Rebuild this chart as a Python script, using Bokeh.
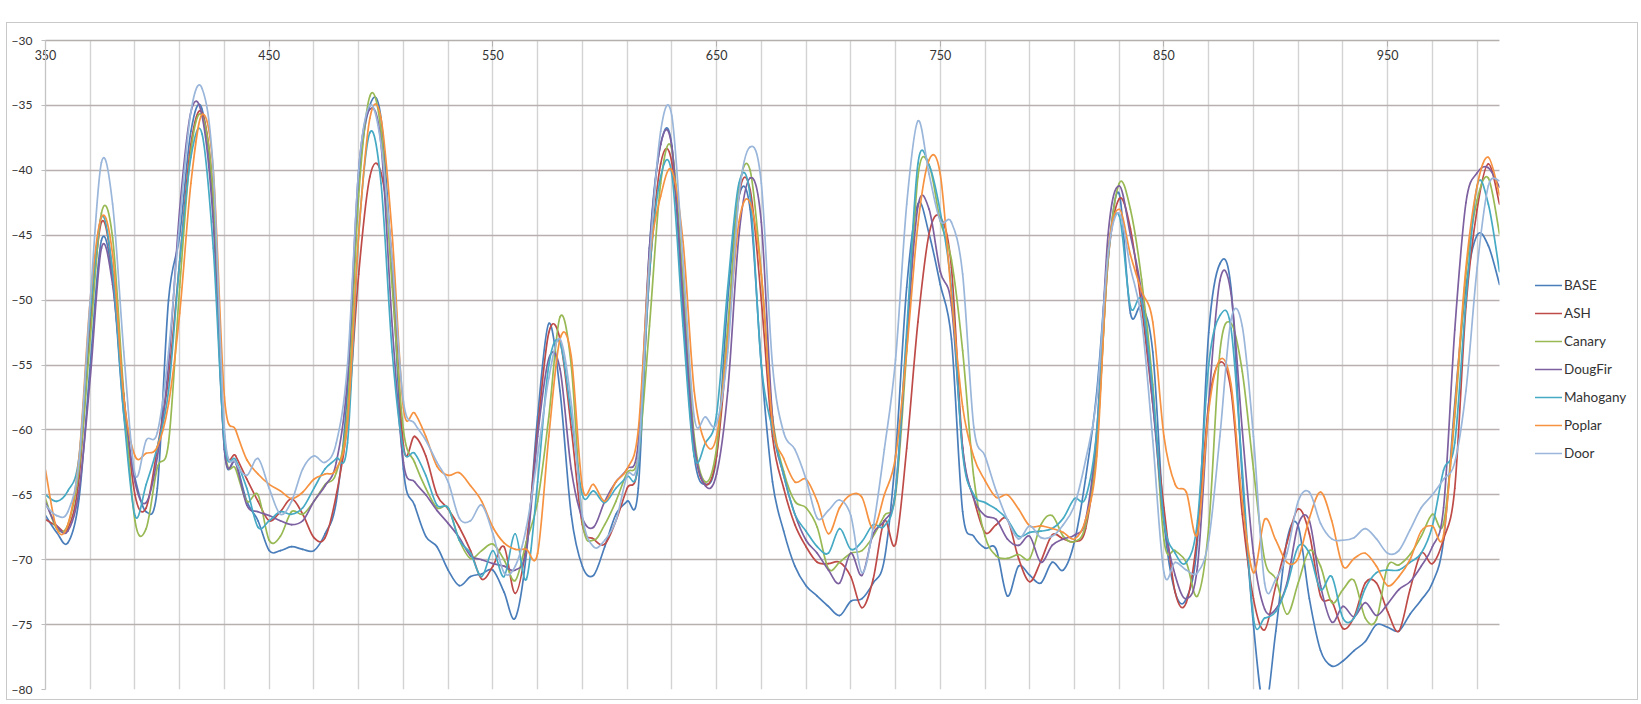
from bokeh.plotting import figure
from bokeh.models import Range1d, FixedTicker, Legend, LegendItem, BoxAnnotation
from bokeh.embed import file_html
from bokeh.resources import INLINE

# wavelength axis (every 5 units)
wavelength = list(range(350, 1001, 5))

base = [
    -66.6, -67.9, -68.7, -65.3, -55.0, -45.4, -48.4, -58.8, -63.7, -66.3,
    -64.5, -50.0, -45.0, -37.0, -35.3, -43.0, -61.5, -62.5, -65.5, -67.0,
    -69.3, -69.3, -69.0, -69.2, -69.3, -68.0, -65.5, -57.0, -41.0, -35.0,
    -36.0, -48.0, -63.0, -65.8, -68.2, -69.0, -70.8, -72.0, -71.3, -71.1,
    -70.8, -72.5, -74.5, -69.5, -59.0, -51.8, -57.0, -66.5, -70.5, -71.2,
    -69.0, -66.5, -65.5, -64.5, -46.0, -38.0, -38.1, -51.0, -62.0, -64.2,
    -62.0, -50.0, -42.0, -43.0, -55.0, -64.0, -67.8, -70.5, -72.0, -72.8,
    -73.6, -74.3, -73.2, -73.0, -71.8, -70.0, -62.0, -49.0, -42.6, -44.9,
    -48.8, -53.0, -66.3, -68.2, -69.1, -69.2, -72.8, -70.5, -71.2, -71.8,
    -70.2, -70.8, -68.6, -63.7, -57.0, -46.5, -41.8, -51.0, -50.5, -54.0,
    -67.0, -72.5, -73.0, -68.5, -52.5, -47.2, -49.1, -63.7, -75.0, -81.5,
    -75.5, -68.5, -67.4, -73.0, -77.0, -78.2, -77.8, -77.0, -76.3, -75.0,
    -75.2, -75.5, -74.2, -73.1, -71.8, -68.5, -58.0, -49.0, -45.0, -45.8,
    -48.8,
]
ash = [
    -66.9, -67.4, -67.6, -63.7, -52.0, -44.0, -47.8, -57.5, -65.0, -66.0,
    -61.4, -56.0, -47.0, -38.0, -35.6, -42.0, -60.5, -62.0, -63.8, -65.5,
    -67.0, -66.3, -65.3, -66.5, -68.3, -68.3, -65.0, -59.5, -48.0, -40.5,
    -40.2, -47.0, -61.2, -60.5, -62.0, -65.0, -66.1, -67.5, -69.3, -71.5,
    -70.5, -69.0, -72.6, -68.7, -60.0, -52.5, -53.0, -59.8, -67.3, -68.4,
    -68.8, -67.0, -64.5, -62.5, -48.0, -39.5, -39.4, -49.0, -61.0, -64.2,
    -62.0, -53.0, -42.0, -41.5, -50.0, -60.5, -64.5, -67.3, -69.0, -70.2,
    -70.3, -70.2, -71.3, -73.7, -71.5, -67.0, -68.8, -61.4, -51.7, -44.9,
    -43.6, -47.5, -61.4, -65.3, -67.9, -67.3, -66.9, -69.9, -71.7, -70.1,
    -68.1, -68.4, -68.6, -67.6, -61.0, -47.0, -42.2, -44.5, -50.5, -58.0,
    -66.0, -72.5, -73.3, -68.0, -58.0, -54.8, -57.0, -66.5, -73.0, -75.4,
    -72.0, -68.7, -66.1, -68.0, -72.8, -73.2, -75.3, -74.4, -71.8, -71.8,
    -74.0, -75.5, -72.3, -69.5, -70.3, -68.4, -64.5, -50.5, -43.0, -39.5,
    -42.6,
]
canary = [
    -65.3, -67.6, -67.3, -63.0, -53.0, -43.3, -45.2, -57.2, -67.0, -67.6,
    -62.9, -61.0, -49.0, -38.5, -35.8, -42.0, -61.0, -63.0, -65.5, -65.0,
    -68.5, -68.2, -66.3, -66.5, -65.5, -64.2, -63.3, -58.5, -42.0, -34.3,
    -37.0, -49.0, -60.0, -62.5, -64.5, -66.0, -66.0, -68.5, -69.9, -69.3,
    -68.8, -70.0, -71.6, -68.6, -65.5, -59.0, -51.3, -55.0, -67.0, -68.5,
    -67.3, -65.5, -63.3, -62.0, -52.0, -41.0, -38.4, -48.5, -60.5, -64.0,
    -61.4, -52.0, -41.5, -40.0, -48.0, -59.0, -63.2, -65.5, -66.0, -67.5,
    -70.7, -70.2, -69.5, -69.3, -68.2, -66.6, -65.0, -53.9, -40.5, -39.6,
    -43.9, -46.9, -53.9, -63.7, -68.2, -69.7, -69.9, -69.6, -69.9, -67.3,
    -66.6, -68.2, -68.6, -67.3, -61.0, -47.0, -41.0, -43.0, -48.4, -56.5,
    -68.5, -69.3, -70.2, -72.8, -67.5, -54.0, -51.8, -55.5, -63.0, -70.0,
    -71.5, -74.2, -71.8, -69.3, -70.5, -73.3, -72.3, -71.6, -74.5, -74.6,
    -70.5, -70.4, -69.6, -68.2, -66.5, -67.2, -59.0, -48.0, -42.3, -40.6,
    -44.9,
]
dougfir = [
    -65.6, -67.4, -67.8, -64.7, -56.0, -46.0, -48.8, -57.5, -64.0, -65.6,
    -62.1, -55.0, -43.0, -35.5, -35.8, -44.0, -61.5, -62.5, -65.8, -66.3,
    -66.6, -67.0, -67.3, -67.0, -65.5, -64.3, -62.5, -56.0, -40.0, -35.3,
    -38.0, -52.0, -62.5, -64.0, -65.0, -66.2, -67.2, -68.3, -69.7, -70.0,
    -70.3, -70.5, -70.8, -69.2, -60.5, -54.5, -55.3, -63.0, -66.8, -67.5,
    -65.5, -64.0, -63.0, -61.0, -46.0, -38.0, -38.2, -50.0, -61.0, -64.3,
    -63.4, -57.0, -45.0, -40.6, -44.0, -59.0, -63.5, -66.5, -68.5, -69.5,
    -70.8, -71.8, -69.5, -71.2, -68.0, -67.0, -64.7, -53.0, -42.8, -43.0,
    -47.8, -50.4, -61.4, -65.3, -66.6, -66.9, -68.4, -68.9, -68.2, -70.2,
    -68.9, -68.4, -68.1, -66.9, -60.0, -45.0, -41.2, -45.0, -49.5, -58.0,
    -67.0, -71.2, -73.0, -70.5, -58.0, -48.5, -49.5, -60.0, -69.5, -73.8,
    -73.8, -71.8, -67.3, -67.0, -72.0, -74.8, -73.6, -74.4, -73.3, -74.3,
    -73.4, -72.3, -71.7, -70.5, -69.0, -66.0, -52.3, -42.5, -40.2, -39.8,
    -41.3,
]
mahogany = [
    -65.0, -65.5, -64.7, -62.1, -51.0, -43.6, -47.8, -58.8, -66.6, -64.2,
    -61.3, -57.0, -47.0, -39.0, -37.2, -46.0, -61.0, -62.3, -64.5, -67.5,
    -67.0, -66.3, -66.5, -66.0, -64.5, -63.0, -62.2, -61.0, -45.0, -37.1,
    -41.0, -54.0, -61.5, -61.8, -63.5, -65.8, -66.0, -68.5, -69.5, -71.3,
    -69.3, -71.3, -68.0, -71.5, -64.0, -55.0, -53.3, -58.8, -65.0, -64.7,
    -65.6, -64.5, -63.6, -62.6, -48.0, -40.5, -40.3, -52.0, -62.0, -61.0,
    -58.8, -49.0, -41.0, -42.0, -55.0, -60.0, -63.5, -66.5, -67.8, -69.0,
    -69.5, -67.6, -69.2, -68.6, -67.3, -67.4, -64.7, -52.3, -39.5, -39.6,
    -43.2, -49.1, -61.8, -65.0, -65.6, -66.1, -66.9, -68.2, -67.9, -67.8,
    -67.6, -66.8, -65.3, -65.2, -60.0, -46.5, -43.5, -50.5, -50.1, -57.0,
    -67.0, -69.5, -70.2, -67.0, -55.0, -51.2, -52.2, -63.0, -74.5, -74.5,
    -74.0, -72.0, -69.0, -69.5, -72.3, -71.3, -74.5, -74.5, -72.2, -71.0,
    -70.8, -70.8, -70.2, -69.5, -67.4, -63.1, -61.0, -50.0, -41.2, -42.6,
    -47.8,
]
poplar = [
    -63.1, -67.6, -67.3, -62.1, -50.0, -43.6, -46.5, -57.5, -62.0, -61.8,
    -61.3, -58.0, -51.0, -41.0, -35.7, -40.0, -57.5, -60.0, -62.3, -63.4,
    -64.2, -64.7, -65.3, -64.8, -63.8, -63.4, -63.0, -59.5, -45.0, -36.0,
    -36.0, -45.0, -58.3, -58.7, -60.5, -62.8, -63.5, -63.3, -64.3, -65.5,
    -67.5, -68.7, -69.2, -69.2, -69.5, -60.5, -53.0, -54.3, -64.4, -64.2,
    -65.5, -64.0, -63.0, -60.0, -47.0, -42.0, -40.0, -45.5, -57.0, -61.0,
    -60.5, -53.0, -44.0, -42.5, -48.0, -59.5, -62.2, -64.0, -63.8, -65.5,
    -68.0, -66.0, -65.0, -65.2, -67.6, -65.0, -62.1, -53.9, -44.2, -39.2,
    -40.3, -49.7, -58.2, -62.1, -63.9, -65.2, -65.0, -66.1, -67.4, -67.4,
    -67.6, -67.9, -68.4, -66.9, -62.0, -46.5, -43.0, -46.5, -49.3, -51.7,
    -60.5, -64.2, -64.8, -68.0, -58.5, -54.6, -56.5, -65.5, -71.0, -66.9,
    -68.5, -70.2, -69.9, -66.8, -64.8, -67.0, -70.5, -69.9, -69.5, -70.5,
    -72.0, -71.3, -70.0, -67.8, -67.4, -68.1, -58.5, -47.5, -41.2, -39.0,
    -41.9,
]
door = [
    -65.8, -66.6, -66.3, -62.4, -50.0, -39.4, -42.6, -54.0, -63.4, -60.8,
    -60.2, -54.0, -44.0, -35.5, -33.7, -40.0, -60.0, -62.5, -63.5, -62.2,
    -64.5, -66.5, -65.5, -63.0, -62.0, -62.5, -61.0, -55.0, -40.0, -35.0,
    -38.0, -47.0, -57.8, -59.5, -60.8, -62.5, -64.0, -66.8, -67.0, -65.8,
    -68.0, -71.0, -70.5, -67.5, -62.0, -56.0, -53.0, -57.9, -66.6, -69.0,
    -68.5, -67.0, -63.5, -62.0, -47.0, -37.0, -35.8, -47.0, -59.0, -59.0,
    -59.5, -54.0, -42.0, -38.2, -41.0, -55.0, -60.2, -61.5, -63.8, -66.8,
    -66.2, -65.4, -66.6, -71.0, -67.5, -61.5, -54.6, -42.6, -36.2, -40.3,
    -43.9, -44.0, -48.0, -59.8, -62.0, -64.7, -66.9, -68.4, -67.4, -68.3,
    -68.2, -67.3, -65.8, -62.3, -57.5, -46.5, -43.3, -47.5, -51.5, -60.8,
    -71.0, -70.2, -70.8, -71.0, -68.5, -60.5, -51.5, -52.0, -60.5, -71.8,
    -71.5, -69.5, -65.5, -64.8, -67.2, -68.4, -68.5, -68.3, -67.6, -68.4,
    -69.5, -69.3, -67.7, -66.0, -65.0, -63.8, -62.5, -57.0, -47.5, -41.2,
    -40.8,
]

series_names = ["BASE", "ASH", "Canary", "DougFir", "Mahogany", "Poplar", "Door"]
series_values = [base, ash, canary, dougfir, mahogany, poplar, door]
series_colors = ["#4a7ebb", "#be4b48", "#98b954", "#7d60a0", "#46aac5", "#f69240", "#9ab6da"]

x_label_ticks = [350, 450, 550, 650, 750, 850, 950]
x_grid_ticks = list(range(350, 1000, 20))
y_ticks = [-80, -75, -70, -65, -60, -55, -50, -45, -40, -35, -30]
x_start, x_end = 350, 1000

FONT = "Lato"

# layout (pixels)
FIG_W, FIG_H = 1632, 678
BORDER_L, BORDER_R, BORDER_T, BORDER_B = 38, 0, 17, 12
PLOT_W = 1454                      # width used by the 350..1000 data region
FRAME_W = FIG_W - BORDER_L - BORDER_R
# the frame also hosts the legend at its right, beyond the data region
x_view_end = x_end + (x_end - x_start) * (FRAME_W - PLOT_W) / PLOT_W


def smoothed_segments(xs, ys):
    """Cubic Bezier segments through the data points (like a spreadsheet's smoothed line)."""
    n = len(xs)
    seg = {k: [] for k in ("x0", "y0", "x1", "y1", "cx0", "cy0", "cx1", "cy1")}
    for i in range(n - 1):
        xa, ya = (xs[i - 1], ys[i - 1]) if i > 0 else (xs[i], ys[i])
        xd, yd = (xs[i + 2], ys[i + 2]) if i + 2 < n else (xs[i + 1], ys[i + 1])
        seg["x0"].append(xs[i]); seg["y0"].append(ys[i])
        seg["x1"].append(xs[i + 1]); seg["y1"].append(ys[i + 1])
        seg["cx0"].append(xs[i] + (xs[i + 1] - xa) / 6.0)
        seg["cy0"].append(ys[i] + (ys[i + 1] - ya) / 6.0)
        seg["cx1"].append(xs[i + 1] - (xd - xs[i]) / 6.0)
        seg["cy1"].append(ys[i + 1] - (yd - ys[i]) / 6.0)
    return seg


p = figure(
    width=FIG_W, height=FIG_H,
    x_range=Range1d(x_start, x_view_end), y_range=Range1d(-80, -30),
    x_axis_location="above",
    output_backend="svg", toolbar_location=None,
    min_border_left=BORDER_L, min_border_right=BORDER_R,
    min_border_top=BORDER_T, min_border_bottom=BORDER_B,
)
p.styles = {"margin-top": "22px", "margin-left": "6px", "border": "1px solid #c9c9c9"}
p.background_fill_color = "white"
p.border_fill_color = "white"
p.outline_line_color = None

# x axis (top) with labels drawn inside the frame
xa = p.xaxis[0]
xa.bounds = (x_start, x_end)
xa.ticker = FixedTicker(ticks=x_label_ticks)
xa.minor_tick_line_color = None
xa.major_tick_in = 6
xa.major_tick_out = 0
xa.major_tick_line_color = "#b5b0ae"
xa.axis_line_color = "#b5b0ae"
xa.axis_line_width = 1.3
xa.major_label_standoff = -19
xa.major_label_text_font = FONT
xa.major_label_text_font_size = "12.5px"
xa.major_label_text_color = "#333333"

ya = p.yaxis[0]
ya.ticker = FixedTicker(ticks=y_ticks)
ya.minor_tick_line_color = None
ya.major_tick_in = 0
ya.major_tick_out = 4
ya.major_tick_line_color = "#bdbdbd"
ya.axis_line_color = "#c4c4c4"
ya.axis_line_width = 1.3
ya.major_label_standoff = 9
ya.major_label_text_font = FONT
ya.major_label_text_font_size = "12px"
ya.major_label_text_color = "#333333"

p.xgrid[0].ticker = FixedTicker(ticks=x_grid_ticks)
p.xgrid[0].grid_line_color = "#d3d3d3"
p.xgrid[0].grid_line_width = 1.4
p.ygrid[0].ticker = FixedTicker(ticks=y_ticks)
p.ygrid[0].grid_line_color = "#b8b0ae"
p.ygrid[0].grid_line_width = 1.4

items = []
for name, vals, col in zip(series_names, series_values, series_colors):
    seg = smoothed_segments(wavelength, vals)
    r = p.bezier(line_color=col, line_width=1.7, line_cap="round", **seg)
    items.append(LegendItem(label=name, renderers=[r]))

# blank area right of the data region (where the legend sits)
p.add_layout(BoxAnnotation(left=x_end, fill_color="white", fill_alpha=1.0,
                           line_alpha=0))

legend = Legend(
    items=items,
    location=(PLOT_W + 36, 228),
    glyph_width=27, glyph_height=16, label_height=16,
    label_standoff=2, spacing=12, padding=0, margin=0,
    label_text_font=FONT, label_text_font_size="13.5px",
    label_text_color="#333333",
    border_line_color=None, background_fill_alpha=0,
)
p.add_layout(legend, "center")

open("out.html", "w").write(file_html(p, INLINE))
